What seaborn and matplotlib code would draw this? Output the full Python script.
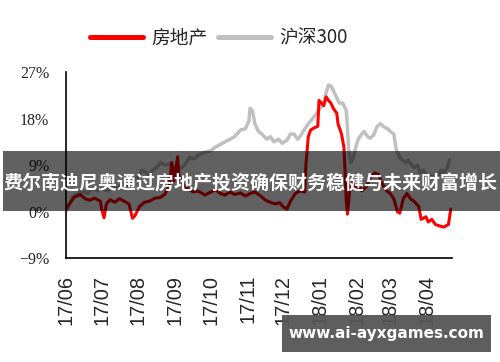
import numpy as np
import pandas as pd
import matplotlib.pyplot as plt
import seaborn as sns
from matplotlib.patches import Rectangle
from matplotlib.lines import Line2D

#%% data (cumulative return, %)
re_dates = ["2017-06-01", "2017-06-04", "2017-06-08", "2017-06-13", "2017-06-17", "2017-06-21",
            "2017-06-25", "2017-06-30", "2017-07-01", "2017-07-03", "2017-07-05", "2017-07-08",
            "2017-07-12", "2017-07-16", "2017-07-20", "2017-07-24", "2017-07-27", "2017-07-29",
            "2017-08-02", "2017-08-06", "2017-08-10", "2017-08-15", "2017-08-19", "2017-08-23",
            "2017-08-27", "2017-08-29", "2017-08-31", "2017-09-03", "2017-09-04", "2017-09-07",
            "2017-09-11", "2017-09-16", "2017-09-20", "2017-09-26", "2017-10-01", "2017-10-05",
            "2017-10-09", "2017-10-13", "2017-10-17", "2017-10-21", "2017-10-26", "2017-10-30",
            "2017-11-03", "2017-11-07", "2017-11-12", "2017-11-16", "2017-11-20", "2017-11-24",
            "2017-11-28", "2017-12-01", "2017-12-04", "2017-12-07", "2017-12-11", "2017-12-15",
            "2017-12-19", "2017-12-20", "2017-12-22", "2017-12-24", "2017-12-27", "2017-12-30",
            "2017-12-31", "2018-01-02", "2018-01-04", "2018-01-06", "2018-01-08", "2018-01-10",
            "2018-01-12", "2018-01-15", "2018-01-16", "2018-01-19", "2018-01-21", "2018-01-22",
            "2018-01-23", "2018-01-24", "2018-01-26", "2018-01-28", "2018-01-30", "2018-02-02",
            "2018-02-05", "2018-02-09", "2018-02-12", "2018-02-16", "2018-02-19", "2018-02-22",
            "2018-02-26", "2018-03-01", "2018-03-04", "2018-03-07", "2018-03-09", "2018-03-12",
            "2018-03-15", "2018-03-18", "2018-03-21", "2018-03-25", "2018-03-27", "2018-03-31",
            "2018-04-02", "2018-04-05", "2018-04-08", "2018-04-12", "2018-04-15", "2018-04-19",
            "2018-04-21"]
re_vals = [0.5, 1.5, 2.8, 3.3, 2.5, 2.2,
           2.6, 2.0, 0.5, -1.2, 1.5, 2.3,
           1.8, 2.5, 2.0, 1.5, -1.3, -0.8,
           1.0, 1.8, 2.0, 2.6, 2.7, 3.3,
           5.0, 9.5, 6.0, 10.6, 7.0, 5.6,
           4.5, 3.8, 4.0, 3.2, 3.8, 4.2,
           3.5, 3.2, 3.8, 3.3, 3.6, 3.0,
           3.5, 3.8, 3.0, 2.2, 1.8, 1.5,
           1.7, 0.9, 0.5, 2.0, 3.5, 4.0,
           3.8, 9.0, 14.5, 15.8, 16.2, 16.5,
           21.5, 21.0, 20.5, 22.2, 21.5, 21.0,
           20.0, 19.0, 17.0, 15.0, 12.4, 7.5,
           2.0, -0.5, 4.5, 6.0, 4.5, 5.0,
           4.0, 4.8, 6.5, 7.5, 7.2, 5.5,
           4.0, 3.5, 2.5, 0.0, -0.3, 2.5,
           3.5, 2.5, 2.0, 1.0, -1.5, -1.0,
           -2.0, -1.5, -2.5, -2.8, -3.0, -2.5,
           0.5]

hs_dates = ["2017-06-01", "2017-06-04", "2017-06-07", "2017-06-11", "2017-06-15", "2017-06-19",
            "2017-06-23", "2017-06-28", "2017-07-02", "2017-07-06", "2017-07-10", "2017-07-14",
            "2017-07-19", "2017-07-23", "2017-07-27", "2017-07-31", "2017-08-04", "2017-08-08",
            "2017-08-10", "2017-08-13", "2017-08-16", "2017-08-20", "2017-08-23", "2017-08-27",
            "2017-09-01", "2017-09-05", "2017-09-09", "2017-09-13", "2017-09-17", "2017-09-21",
            "2017-09-26", "2017-10-01", "2017-10-05", "2017-10-09", "2017-10-13", "2017-10-17",
            "2017-10-21", "2017-10-26", "2017-10-30", "2017-11-02", "2017-11-03", "2017-11-05",
            "2017-11-07", "2017-11-10", "2017-11-13", "2017-11-17", "2017-11-20", "2017-11-23",
            "2017-11-27", "2017-11-30", "2017-12-04", "2017-12-07", "2017-12-10", "2017-12-13",
            "2017-12-15", "2017-12-19", "2017-12-22", "2017-12-25", "2017-12-29", "2018-01-01",
            "2018-01-04", "2018-01-06", "2018-01-08", "2018-01-10", "2018-01-12", "2018-01-15",
            "2018-01-17", "2018-01-20", "2018-01-23", "2018-01-24", "2018-01-25", "2018-01-27",
            "2018-01-29", "2018-01-31", "2018-02-02", "2018-02-05", "2018-02-07", "2018-02-10",
            "2018-02-12", "2018-02-15", "2018-02-18", "2018-02-21", "2018-02-23", "2018-02-27",
            "2018-03-01", "2018-03-04", "2018-03-06", "2018-03-09", "2018-03-11", "2018-03-14",
            "2018-03-16", "2018-03-19", "2018-03-21", "2018-03-24", "2018-03-26", "2018-03-29",
            "2018-03-31", "2018-04-03", "2018-04-05", "2018-04-08", "2018-04-10", "2018-04-13",
            "2018-04-15", "2018-04-18", "2018-04-20"]
hs_vals = [0.0, 1.5, 3.0, 3.5, 4.0, 3.5,
           4.5, 4.0, 4.5, 4.0, 5.0, 4.5,
           5.5, 5.0, 6.0, 6.5, 8.0, 7.5,
           7.0, 8.0, 8.5, 9.5, 9.0, 9.2,
           8.5, 8.3, 9.0, 10.5, 10.2, 11.0,
           11.5, 11.8, 12.5, 13.0, 13.5, 14.0,
           14.5, 15.8, 16.0, 17.5, 20.0, 19.5,
           17.0, 15.5, 15.0, 14.0, 14.5, 13.5,
           14.0, 13.2, 13.8, 15.0, 15.0, 14.0,
           14.5, 16.0, 17.0, 17.8, 19.0, 20.0,
           20.8, 23.0, 24.5, 24.3, 23.5, 22.0,
           21.0, 21.0, 19.5, 16.0, 12.0, 9.5,
           10.5, 12.5, 14.0, 15.0, 15.5, 14.5,
           14.2, 14.8, 16.5, 17.0, 16.5, 16.0,
           15.5, 15.0, 12.0, 10.5, 10.0, 9.5,
           10.0, 9.0, 8.5, 9.0, 7.5, 8.0,
           7.0, 6.5, 7.0, 6.0, 7.0, 8.0,
           7.5, 8.5, 10.0]

y_ticks = [-9, 0, 9, 18, 27]
y_labels = ["−9%", "0%", "9%", "18%", "27%"]
x_ticks = ["2017-06-01", "2017-07-01", "2017-08-01", "2017-09-01", "2017-10-01", "2017-11-01",
           "2017-12-01", "2018-01-01", "2018-02-01", "2018-03-01", "2018-04-01"]
x_labels = ["17/06", "17/07", "17/08", "17/09", "17/10", "17/11",
            "17/12", "18/01", "18/02", "18/03", "18/04"]
names = ["房地产", "沪深300"]
banner = "费尔南迪尼奥通过房地产投资确保财务稳健与未来财富增长"
watermark = "www.ai-ayxgames.com"

#%% plot
sns.set_style("white")
plt.rcParams['font.family'] = ['Liberation Sans', 'Noto Sans CJK SC', 'DejaVu Sans']

fig = plt.figure(figsize=(5, 3.62), dpi=100)
ax = fig.add_axes([0.132, 0.287, 0.772, 0.514])

re = pd.DataFrame({"date": pd.to_datetime(re_dates), "val": re_vals})
hs = pd.DataFrame({"date": pd.to_datetime(hs_dates), "val": hs_vals})
sns.lineplot(data=hs, x="date", y="val", color="#c0c0c0", lw=2.5, ax=ax)
sns.lineplot(data=re, x="date", y="val", color="#ff0000", lw=2.2, ax=ax)

ax.set_xlim(pd.Timestamp("2017-06-01"), pd.Timestamp("2018-04-22"))
ax.set_ylim(-9, 27)
ax.set_xticks(pd.to_datetime(x_ticks))
ax.set_xticklabels(x_labels, rotation=90, fontsize=14.4, family=['Liberation Sans'])
ax.set_yticks(y_ticks)
ax.set_yticklabels(y_labels, fontsize=11.5, family=['Liberation Serif'])
ax.set_xlabel("")
ax.set_ylabel("")
ax.tick_params(direction="in", length=3, width=1, color="black", pad=12)
sns.despine(ax=ax)
for s in ["left", "bottom"]:
    ax.spines[s].set_color("black")
    ax.spines[s].set_linewidth(1.2)

handles = [Line2D([], [], color="#ff0000", lw=3.6), Line2D([], [], color="#c0c0c0", lw=3.6)]
fig.legend(handles, names, loc="center left", bbox_to_anchor=(0.18, 0.895), ncol=2,
           frameon=False, fontsize=13.5, handlelength=2.8, handletextpad=0.45,
           columnspacing=0.6, borderpad=0, borderaxespad=0,
           prop={'family': ['Noto Sans CJK SC'], 'size': 13.5})

# overlay banner and watermark
fig.patches.append(Rectangle((0.006, 0.417), 0.994, 0.166, transform=fig.transFigure,
                             color="black", alpha=0.62, lw=0))
fig.text(0.5, 0.494, banner, color="white", fontsize=13.7, fontweight="bold",
         ha="center", va="center", family=['Noto Sans CJK SC'])
fig.patches.append(Rectangle((0.564, 0.0276), 0.418, 0.102, transform=fig.transFigure,
                             color="#555555", alpha=0.95, lw=0))
fig.text(0.773, 0.0787, watermark, color="white", fontsize=11, fontweight="bold",
         ha="center", va="center", family=['DejaVu Sans'])

plt.savefig("out.png", dpi=100)
